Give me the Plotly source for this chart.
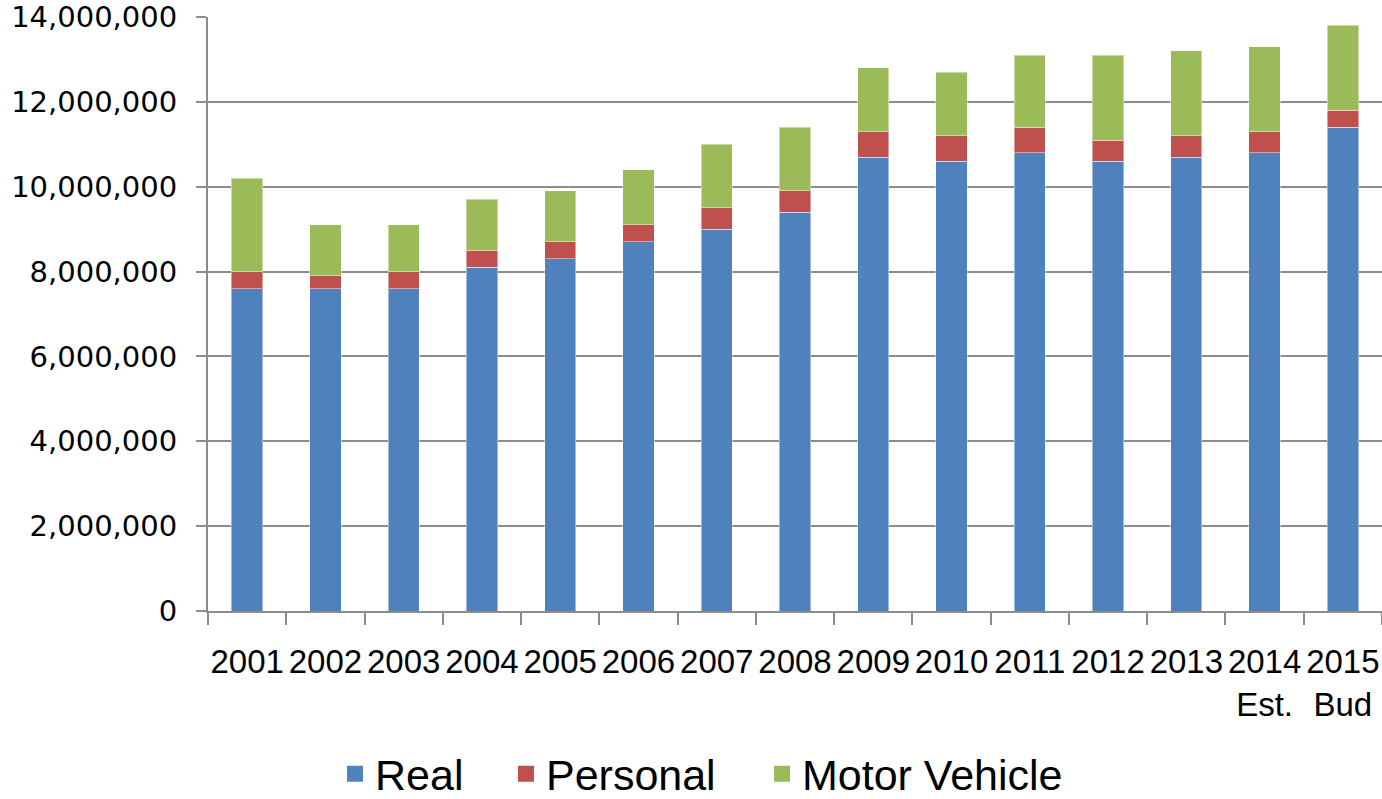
import plotly.graph_objects as go

years = ["2001", "2002", "2003", "2004", "2005", "2006", "2007", "2008",
         "2009", "2010", "2011", "2012", "2013", "2014<br>Est.", "2015<br>Bud"]
real = [7600000, 7600000, 7600000, 8100000, 8300000, 8700000, 9000000, 9400000,
        10700000, 10600000, 10800000, 10600000, 10700000, 10800000, 11400000]
personal = [400000, 300000, 400000, 400000, 400000, 400000, 500000, 500000,
            600000, 600000, 600000, 500000, 500000, 500000, 400000]
motor = [2200000, 1200000, 1100000, 1200000, 1200000, 1300000, 1500000, 1500000,
         1500000, 1500000, 1700000, 2000000, 2000000, 2000000, 2000000]

series_names = ["Real", "Personal", "Motor Vehicle"]
series_colors = ["#4F81BD", "#C0504D", "#9BBB59"]
series_values = [real, personal, motor]

FONT = "Liberation Sans, Arial, sans-serif"
edge = dict(color="rgba(255,255,255,0.45)", width=1)

fig = go.Figure()
legend_ids = ["legend", "legend2", "legend3"]
for name, color, vals, lid in zip(series_names, series_colors, series_values, legend_ids):
    fig.add_trace(go.Bar(x=years, y=vals, name=name,
                         marker=dict(color=color, line=edge), showlegend=False))
    # legend entry with a larger square swatch
    fig.add_trace(go.Scatter(x=[None], y=[None], mode="markers", name=name,
                             marker=dict(symbol="square", size=16, color=color),
                             legend=lid, showlegend=True))

leg_common = dict(orientation="h", yanchor="middle", xanchor="left", y=-0.274,
                  font=dict(family=FONT, size=43, color="#000"),
                  bgcolor="rgba(0,0,0,0)", itemsizing="trace")

fig.update_layout(
    width=1382, height=799,
    barmode="stack", bargap=0.6,
    paper_bgcolor="white", plot_bgcolor="white",
    margin=dict(l=208, r=0, t=17, b=188, autoexpand=False),
    showlegend=True,
    legend=dict(x=0.1082, **leg_common),
    legend2=dict(x=0.2538, **leg_common),
    legend3=dict(x=0.4719, **leg_common),
    xaxis=dict(
        type="category", showgrid=False, automargin=False,
        showline=True, linecolor="#8c8c8c", linewidth=2,
        ticks="outside", tickson="boundaries", ticklen=12, tickwidth=2, tickcolor="#8c8c8c",
        tickfont=dict(family=FONT, size=33, color="#000"), tickangle=0,
        ticklabelstandoff=20, ticklabeloverflow="allow",
    ),
    yaxis=dict(
        range=[0, 14000000], dtick=2000000, tickformat=",d", automargin=False,
        showgrid=True, gridcolor="#8c8c8c", gridwidth=2,
        showline=True, linecolor="#8c8c8c", linewidth=2,
        ticks="outside", ticklen=10, tickwidth=2, tickcolor="#8c8c8c",
        tickfont=dict(family="DejaVu Sans, Verdana, sans-serif", size=29, color="#000"),
        ticklabelstandoff=13, zeroline=False, ticklabeloverflow="allow",
    ),
)

# remove the default page margin so the 1382x799 figure fills the window exactly
fig.write_html("out.html", config={"displayModeBar": False},
               post_script="document.body.style.margin='0';document.body.style.overflow='hidden';")
